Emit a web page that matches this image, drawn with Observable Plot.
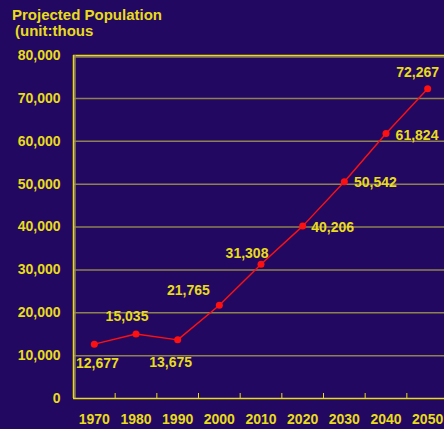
<!DOCTYPE html>
<html>
<head>
<meta charset="utf-8">
<script src="https://cdn.jsdelivr.net/npm/d3@7"></script>
<script src="https://cdn.jsdelivr.net/npm/@observablehq/plot@0.6"></script>
<style>
  html, body { margin: 0; padding: 0; background: #220860; overflow: hidden; }
  #title { font-family: "Liberation Sans", Arial, sans-serif; font-weight: bold; font-size: 15px;
           line-height: 16px; color: #e8dc1a; padding: 7px 0 0 12px; height: 32px; }
  #title .l2 { padding-left: 3px; }
  #chart svg { display: block; overflow: visible; }
</style>
</head>
<body>
<div id="title"><div>Projected Population</div><div class="l2">(unit:thous</div></div>
<div id="chart"></div>
<script>
const years = [1970, 1980, 1990, 2000, 2010, 2020, 2030, 2040, 2050];
const population = [12677, 15035, 13675, 21765, 31308, 40206, 50542, 61824, 72267];
const yTicks = [0, 10000, 20000, 30000, 40000, 50000, 60000, 70000, 80000];
const gridValues = [10000, 20000, 30000, 40000, 50000, 60000, 70000];
const bandEdges = [1975, 1985, 1995, 2005, 2015, 2025, 2035, 2045];
// label placement offsets (pixels) relative to each point
const labelDx = [3, -9, -7, -31, -14, 30, 31, 31, -10];
const labelDy = [19, -18, 23, -15, -11, 1, 1, 2, -16];

const data = years.map((y, i) => ({year: y, value: population[i], dx: labelDx[i], dy: labelDy[i]}));
const fmt = d3.format(",");
const yellow = "#e8dc1a";
const grid = "#8e8150";
const font = "Liberation Sans, Arial, sans-serif";

const chart = Plot.plot({
  width: 444,
  height: 390,
  marginTop: 16,
  marginBottom: 31,
  marginLeft: 73,
  marginRight: -4,
  style: {background: "transparent", fontFamily: font, fontWeight: "bold", fontSize: "14px", color: yellow},
  x: {type: "linear", domain: [1965, 2055]},
  y: {domain: [0, 80000]},
  marks: [
    Plot.ruleY(gridValues, {stroke: grid, strokeWidth: 1.5}),
    // top frame line with shadow
    Plot.ruleY([80000], {stroke: grid, strokeWidth: 1.5, dy: 1.5}),
    Plot.ruleY([80000], {stroke: yellow, strokeWidth: 1.5}),
    // left and bottom axis lines
    Plot.ruleX([1965], {stroke: grid, strokeWidth: 1.5, dx: 1.5}),
    Plot.ruleX([1965], {stroke: yellow, strokeWidth: 1.5}),
    Plot.ruleY([0], {stroke: yellow, strokeWidth: 1.5}),
    Plot.axisX(bandEdges, {tickSize: -5, text: null, stroke: yellow, strokeWidth: 1, label: null}),
    Plot.axisX(years, {tickSize: 0, tickPadding: 16, tickFormat: d => String(d), fill: yellow, label: null, fontSize: 14}),
    Plot.axisY(yTicks, {tickSize: 0, tickPadding: 13, tickFormat: fmt, fill: yellow, label: null, fontSize: 14}),
    Plot.line(data, {x: "year", y: "value", stroke: "#ff1010", strokeWidth: 1.4}),
    Plot.dot(data, {x: "year", y: "value", fill: "#ff1010", r: 3.5, symbol: "circle"}),
    Plot.text(data, {x: "year", y: "value", text: d => fmt(d.value), dx: 0, dy: 0,
      fill: yellow, fontSize: 14, fontWeight: "bold",
      render: (index, scales, values, dims, context, next) => {
        const g = next(index, scales, values, dims, context);
        d3.select(g).selectAll("text").each(function(_, j) {
          const i = index[j];
          d3.select(this).attr("transform", `translate(${values.x[i] + data[i].dx},${values.y[i] + data[i].dy})`);
        });
        return g;
      }
    })
  ]
});
document.getElementById("chart").appendChild(chart);
</script>
</body>
</html>
